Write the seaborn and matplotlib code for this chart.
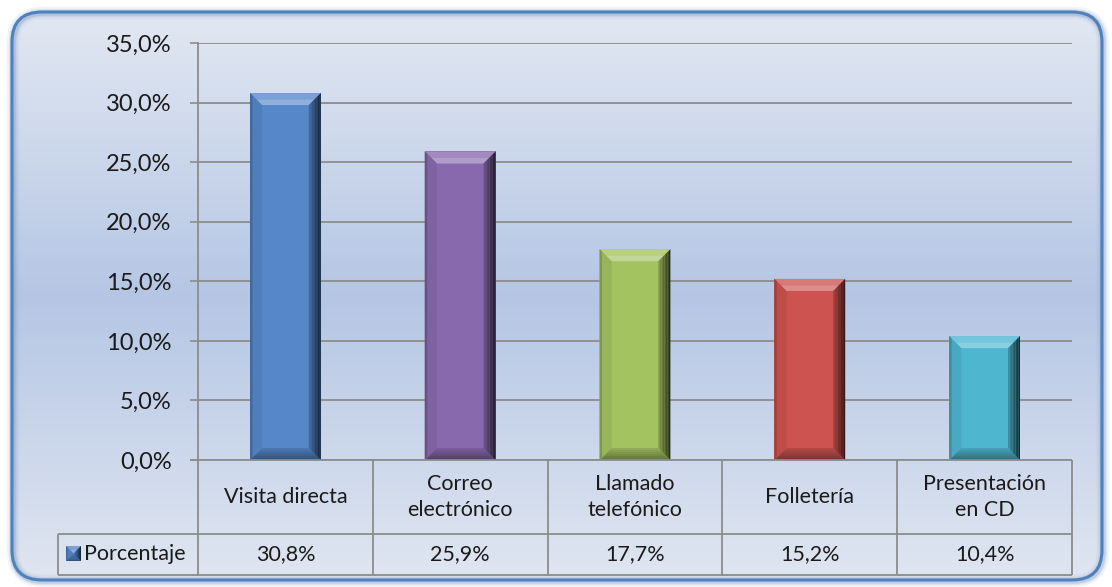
import numpy as np
import matplotlib
matplotlib.use("Agg")
import matplotlib.pyplot as plt
import matplotlib.colors as mcolors
from matplotlib.patches import FancyBboxPatch, Polygon, Rectangle
import seaborn as sns

# Data
categories = ["Visita directa", "Correo electrónico", "Llamado telefónico",
              "Folletería", "Presentación en CD"]
table_labels = ["Visita directa", "Correo\nelectrónico", "Llamado\ntelefónico",
                "Folletería", "Presentación\nen CD"]
values = [30.8, 25.9, 17.7, 15.2, 10.4]
series_name = "Porcentaje"
bar_colors = ["#5587c9", "#8869ad", "#a3c361", "#cc5350", "#4eb6cf"]
y_ticks = [0, 5, 10, 15, 20, 25, 30, 35]

sns.set_theme(style="white")
plt.rcParams["font.family"] = ["Lato", "DejaVu Sans"]

W, H = 1112, 587
fig = plt.figure(figsize=(W / 100, H / 100), dpi=100)
fig.patch.set_facecolor("white")

# Background panel: rounded frame with vertical gradient
bg = fig.add_axes([0, 0, 1, 1], zorder=-10)
bg.set_xlim(0, W)
bg.set_ylim(H, 0)
bg.axis("off")
grad_cmap = mcolors.LinearSegmentedColormap.from_list(
    "panel", [(0.0, "#e2e8f2"), (0.5, "#b5c6e4"), (1.0, "#e0e6f1")])
grad = np.linspace(0, 1, 256).reshape(-1, 1)
frame_kw = dict(boxstyle="round,pad=0,rounding_size=30")
fx0, fy0, fx1, fy1 = 12, 12, 1102, 580
for lw, a in [(9, 0.10), (6, 0.18), (4, 0.30)]:
    bg.add_patch(FancyBboxPatch((fx0 + 1, fy0 + 1), fx1 - fx0, fy1 - fy0,
                                fill=False, ec="#7f9cc4", lw=lw, alpha=a, **frame_kw))
clip = FancyBboxPatch((fx0, fy0), fx1 - fx0, fy1 - fy0, fc="none", ec="none",
                      transform=bg.transData, **frame_kw)
bg.add_patch(clip)
im = bg.imshow(grad, extent=(fx0, fx1, fy1, fy0), cmap=grad_cmap, aspect="auto",
               interpolation="bicubic")
im.set_clip_path(clip)
bg.add_patch(FancyBboxPatch((fx0, fy0), fx1 - fx0, fy1 - fy0, fill=False,
                            ec="#4f81bd", lw=2.2, **frame_kw))
bg.set_xlim(0, W)
bg.set_ylim(H, 0)

# Main plot area
left_px, right_px, top_px, bot_px = 198, 1072, 43, 460
ax = fig.add_axes([left_px / W, 1 - bot_px / H, (right_px - left_px) / W,
                   (bot_px - top_px) / H])
ax.set_facecolor("none")

sns.barplot(x=categories, y=values, hue=categories, palette=bar_colors,
            width=0.405, saturation=1, legend=False, ax=ax, zorder=3,
            edgecolor="none")
ax.set_xlim(-0.5, len(categories) - 0.5)
ax.set_ylim(0, 35)
ax.set_yticks(y_ticks)
ax.set_yticklabels([f"{t:.1f}%".replace(".", ",") for t in y_ticks], fontsize=17,
                   color="#1a1a1a")
ax.set_xticks([])
ax.set_xlabel("")
ax.set_ylabel("")
grid_col = "#8c8c8c"
ax.yaxis.grid(True, color=grid_col, lw=1.3, zorder=0)
ax.set_axisbelow(True)
for s in ["top", "right", "bottom"]:
    ax.spines[s].set_visible(False)
ax.spines["left"].set_color(grid_col)
ax.spines["left"].set_linewidth(1.3)
ax.tick_params(axis="y", left=True, length=6, width=1.2, color=grid_col, pad=13)


def mix(c, other, t):
    c = np.array(mcolors.to_rgb(c))
    o = np.array(mcolors.to_rgb(other))
    return tuple(c * (1 - t) + o * t)


# Bevel shading on each bar
p0 = ax.transData.transform((0, 0))
p1 = ax.transData.transform((1, 1))
px_x = p1[0] - p0[0]
px_y = p1[1] - p0[1]
bev = 12
bx, by = bev / px_x, bev / px_y


def bevel(axis, x0, w, h, col, bxv, byv, z=4):
    x1 = x0 + w
    kw = dict(lw=0, zorder=z)
    # top facet
    axis.add_patch(Polygon([(x0, h), (x1, h), (x1 - bxv, h - byv), (x0 + bxv, h - byv)],
                           fc=mix(col, "white", 0.22), **kw))
    axis.add_patch(Polygon([(x0 + bxv * 0.55, h - byv * 0.55), (x1 - bxv * 0.55, h - byv * 0.55),
                            (x1 - bxv, h - byv), (x0 + bxv, h - byv)],
                           fc=mix(col, "white", 0.34), **kw))
    # bottom facet, darkening toward the base
    n = 6
    for i in range(n):
        ta, tb = i / n, (i + 1) / n
        ya, yb = byv - ta * byv, byv - tb * byv
        pts = [(x0 + bxv - ta * bxv, ya), (x1 - bxv + ta * bxv, ya),
               (x1 - bxv + tb * bxv, yb), (x0 + bxv - tb * bxv, yb)]
        axis.add_patch(Polygon(pts, fc=mix(col, "black", 0.08 + 0.3 * tb), **kw))
    # left facet
    axis.add_patch(Polygon([(x0, h), (x0 + bxv, h - byv), (x0 + bxv, byv), (x0, 0)],
                           fc=mix(col, "black", 0.07), **kw))
    axis.add_patch(Polygon([(x0, h), (x0 + bxv * 0.2, h - byv * 0.2),
                            (x0 + bxv * 0.2, byv * 0.2), (x0, 0)],
                           fc=mix(col, "black", 0.22), **kw))
    # right facet as a graded strip
    n = 8
    for i in range(n):
        ta, tb = i / n, (i + 1) / n
        xa, xb = x1 - bxv + ta * bxv, x1 - bxv + tb * bxv
        pts = [(xa, h - byv + ta * byv), (xb, h - byv + tb * byv),
               (xb, byv - tb * byv), (xa, byv - ta * byv)]
        axis.add_patch(Polygon(pts, fc=mix(col, "black", 0.15 + 0.6 * tb), **kw))


for patch, col in zip(ax.patches, bar_colors):
    bevel(ax, patch.get_x(), patch.get_width(), patch.get_height(), col, bx, by)

# Data table beneath the plot
tr = ax.get_xaxis_transform()
row1 = -(534 - bot_px) / (bot_px - top_px)
row2 = -(575 - bot_px) / (bot_px - top_px)
leg_left = -0.5 - (left_px - 58) / px_x
tick_left = -0.5 - 8 / px_x
n = len(categories)
line_kw = dict(color=grid_col, lw=1.3, transform=tr, clip_on=False, zorder=5,
               solid_capstyle="butt")
ax.plot([tick_left, n - 0.5], [0, 0], **line_kw)
ax.plot([leg_left, n - 0.5], [row1, row1], **line_kw)
ax.plot([leg_left, n - 0.5], [row2, row2], **line_kw)
ax.plot([leg_left, leg_left], [row1, row2], **line_kw)
for k in range(n + 1):
    ax.plot([k - 0.5, k - 0.5], [0, row2], **line_kw)
for k, (lab, v) in enumerate(zip(table_labels, values)):
    ax.text(k, row1 / 2, lab, ha="center", va="center", fontsize=15.5,
            color="#1a1a1a", transform=tr, linespacing=1.4)
    ax.text(k, (row1 + row2) / 2, f"{v:.1f}%".replace(".", ","), ha="center",
            va="center", fontsize=15.5, color="#1a1a1a", transform=tr)

# Series key and name in the table's left cell
ax.text(leg_left + 26 / px_x, (row1 + row2) / 2, series_name, ha="left", va="center",
        fontsize=15.5, color="#1a1a1a", transform=tr)
key_ax = fig.add_axes([66 / W, 1 - 561 / H, 15 / W, 15 / H])
key_ax.set_xlim(0, 1)
key_ax.set_ylim(0, 1)
key_ax.axis("off")
key_ax.add_patch(Rectangle((0, 0), 1, 1, fc=bar_colors[0], lw=0))
bevel(key_ax, 0, 1, 1, bar_colors[0], 0.5, 0.5)

fig.savefig("out.png", dpi=100)
